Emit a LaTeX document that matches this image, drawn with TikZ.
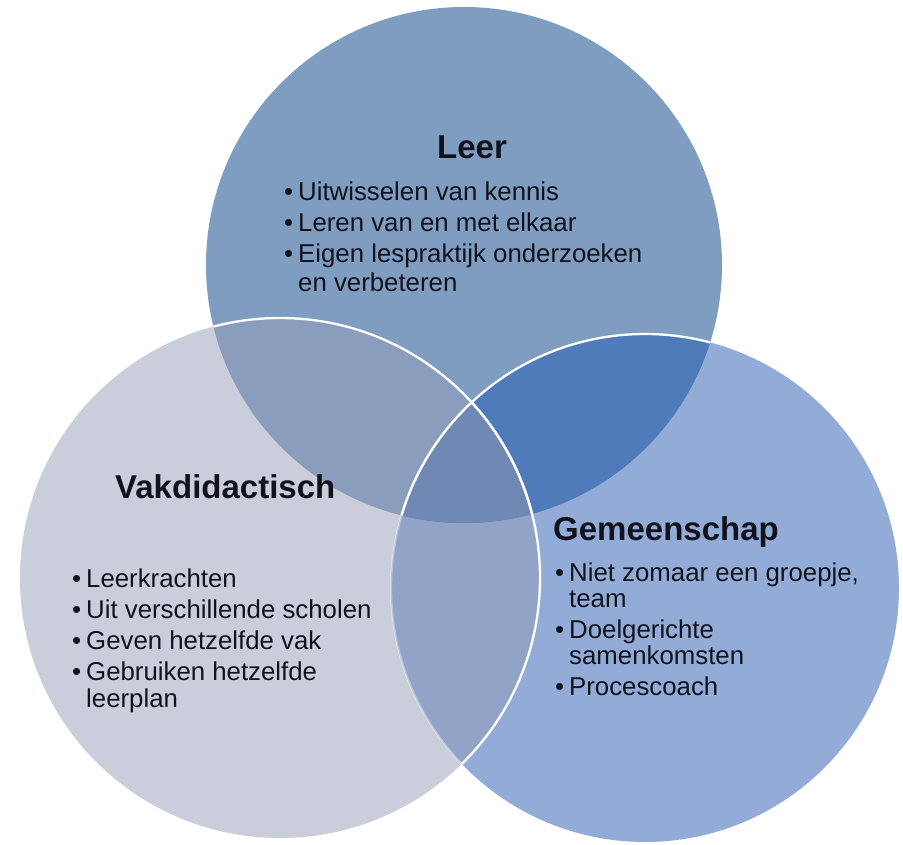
\documentclass[tikz,border=0pt]{standalone}
\usepackage{fontspec}
\setmainfont{Liberation Sans}
\definecolor{cT}{RGB}{126,157,192}
\definecolor{cL}{RGB}{201,206,218}
\definecolor{cR}{RGB}{147,172,215}
\definecolor{cTL}{RGB}{139,157,188}
\definecolor{cTR}{RGB}{80,123,187}
\definecolor{cLR}{RGB}{145,163,199}
\definecolor{cC}{RGB}{112,137,180}
\definecolor{txtc}{RGB}{18,18,28}
\newcommand{\pT}{(464,265) circle[radius=258pt]}
\newcommand{\pL}{(280,578) circle[radius=260pt]}
\newcommand{\pR}{(645,588) circle[radius=254pt]}
\newcommand{\bl}{\makebox[14pt][l]{•}}
\begin{document}
\begin{tikzpicture}[x=1pt,y=-1pt,
  bt/.style={anchor=base west, inner sep=0pt, text=txtc, font=\fontsize{25.8}{30}\selectfont},
  ttl/.style={inner sep=0pt, text=txtc, font=\fontsize{33}{38}\selectfont\bfseries},
  wline/.style={draw=white, line width=2.3pt}]
\useasboundingbox (0,0) rectangle (903,845);
% circles
\fill[cT] \pT;
\fill[cL] \pL;
\fill[cR] \pR;
\begin{scope}\clip \pL; \fill[cLR] \pR; \end{scope}
\begin{scope}\clip \pT; \fill[cTL] \pL; \fill[cTR] \pR; \clip \pL; \fill[cC] \pR; \end{scope}
% white outlines
\begin{scope}\clip \pL; \draw[wline, opacity=.35] \pR; \end{scope}
\begin{scope}\clip \pT; \draw[wline] \pL; \draw[wline] \pR; \end{scope}
\begin{scope}\clip \pR; \draw[wline] \pL; \end{scope}
% Leer
\node[ttl, anchor=base] (leer) at (472,159) {Leer};
\node[bt] (l1) at (284,201) {\bl Uitwisselen van kennis};
\node[bt] (l2) at (284,232) {\bl Leren van en met elkaar};
\node[bt] (l3) at (284,263) {\bl Eigen lespraktijk onderzoeken};
\node[bt] (l4) at (298,291) {en verbeteren};
% Vakdidactisch
\node[ttl, anchor=base west] (vak) at (115,498) {Vakdidactisch};
\node[bt] (v1) at (72,587) {\bl Leerkrachten};
\node[bt] (v2) at (72,618) {\bl Uit verschillende scholen};
\node[bt] (v3) at (72,649) {\bl Geven hetzelfde vak};
\node[bt] (v4) at (72,680) {\bl Gebruiken hetzelfde};
\node[bt] (v5) at (86,707) {leerplan};
% Gemeenschap
\node[ttl, anchor=base west] (gem) at (553,540) {Gemeenschap};
\node[bt] (g1) at (555,581) {\bl Niet zomaar een groepje,};
\node[bt] (g2) at (569,607) {team};
\node[bt] (g3) at (555,638) {\bl Doelgerichte};
\node[bt] (g4) at (569,664) {samenkomsten};
\node[bt] (g5) at (555,695) {\bl Procescoach};
\end{tikzpicture}
\end{document}
